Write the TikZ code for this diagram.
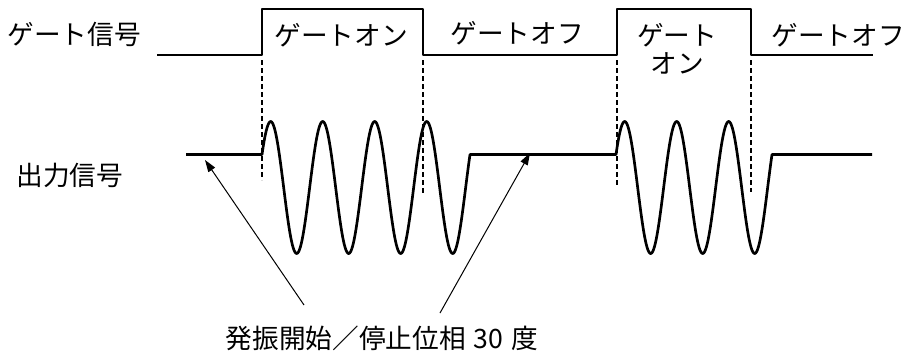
\documentclass[tikz,border=0pt]{standalone}
\usepackage{fontspec}
\setmainfont{Noto Sans CJK JP}
\usetikzlibrary{arrows.meta}
\tikzset{
  sig/.style={line width=2pt, line join=round},
  guide/.style={line width=0.9pt, dash pattern=on 3.75pt off 2.25pt},
  pointer/.style={line width=0.75pt, -{Triangle[length=9pt,width=6pt]}},
  lbl/.style={inner sep=0pt, font=\fontsize{20pt}{21pt}\selectfont, align=center}
}
\begin{document}
\begin{tikzpicture}[x=0.75pt,y=-0.75pt]
\useasboundingbox (0,0) rectangle (906,354);
% labels
\node[lbl] (gsig) at (74,34) {ゲート信号};
\node[lbl] (osig) at (70,175) {出力信号};
\node[lbl] (on1) at (341,35) {ゲートオン};
\node[lbl] (off1) at (517,33) {ゲートオフ};
\node[lbl] (on2) at (677,49) {ゲート\\オン};
\node[lbl] (off2) at (838,35) {ゲートオフ};
\node[lbl] (note) at (382,338) {発振開始／停止位相\hspace{0.3em}30\hspace{0.3em}度};
% gate signal
\draw[sig] (157,55) -- (262,55) -- (262,9) -- (423,9) -- (423,55) -- (617,55) -- (617,9) -- (751,9) -- (751,55) -- (873,55);
% guides
\draw[guide] (262,60) -- (262,180);
\draw[guide] (423,60) -- (423,193);
\draw[guide] (617,60) -- (617,186);
\draw[guide] (751,60) -- (751,192);
% output signal
\draw[sig] (186,154.5) -- (262,154.5)
  -- plot[domain=30:1470,samples=300] ({262+(\x-30)/360*52},{187.5-66*sin(\x)})
  -- (616,154.5)
  -- plot[domain=30:1110,samples=240] ({616+(\x-30)/360*52},{187.5-66*sin(\x)})
  -- (872,154.5);
% pointers
\coordinate (p1) at (304,305);
\coordinate (t1) at (205,160);
\coordinate (p2) at (440,313);
\coordinate (t2) at (530,153);
\draw[pointer] (p1) -- (t1);
\draw[pointer] (p2) -- (t2);
\end{tikzpicture}
\end{document}
